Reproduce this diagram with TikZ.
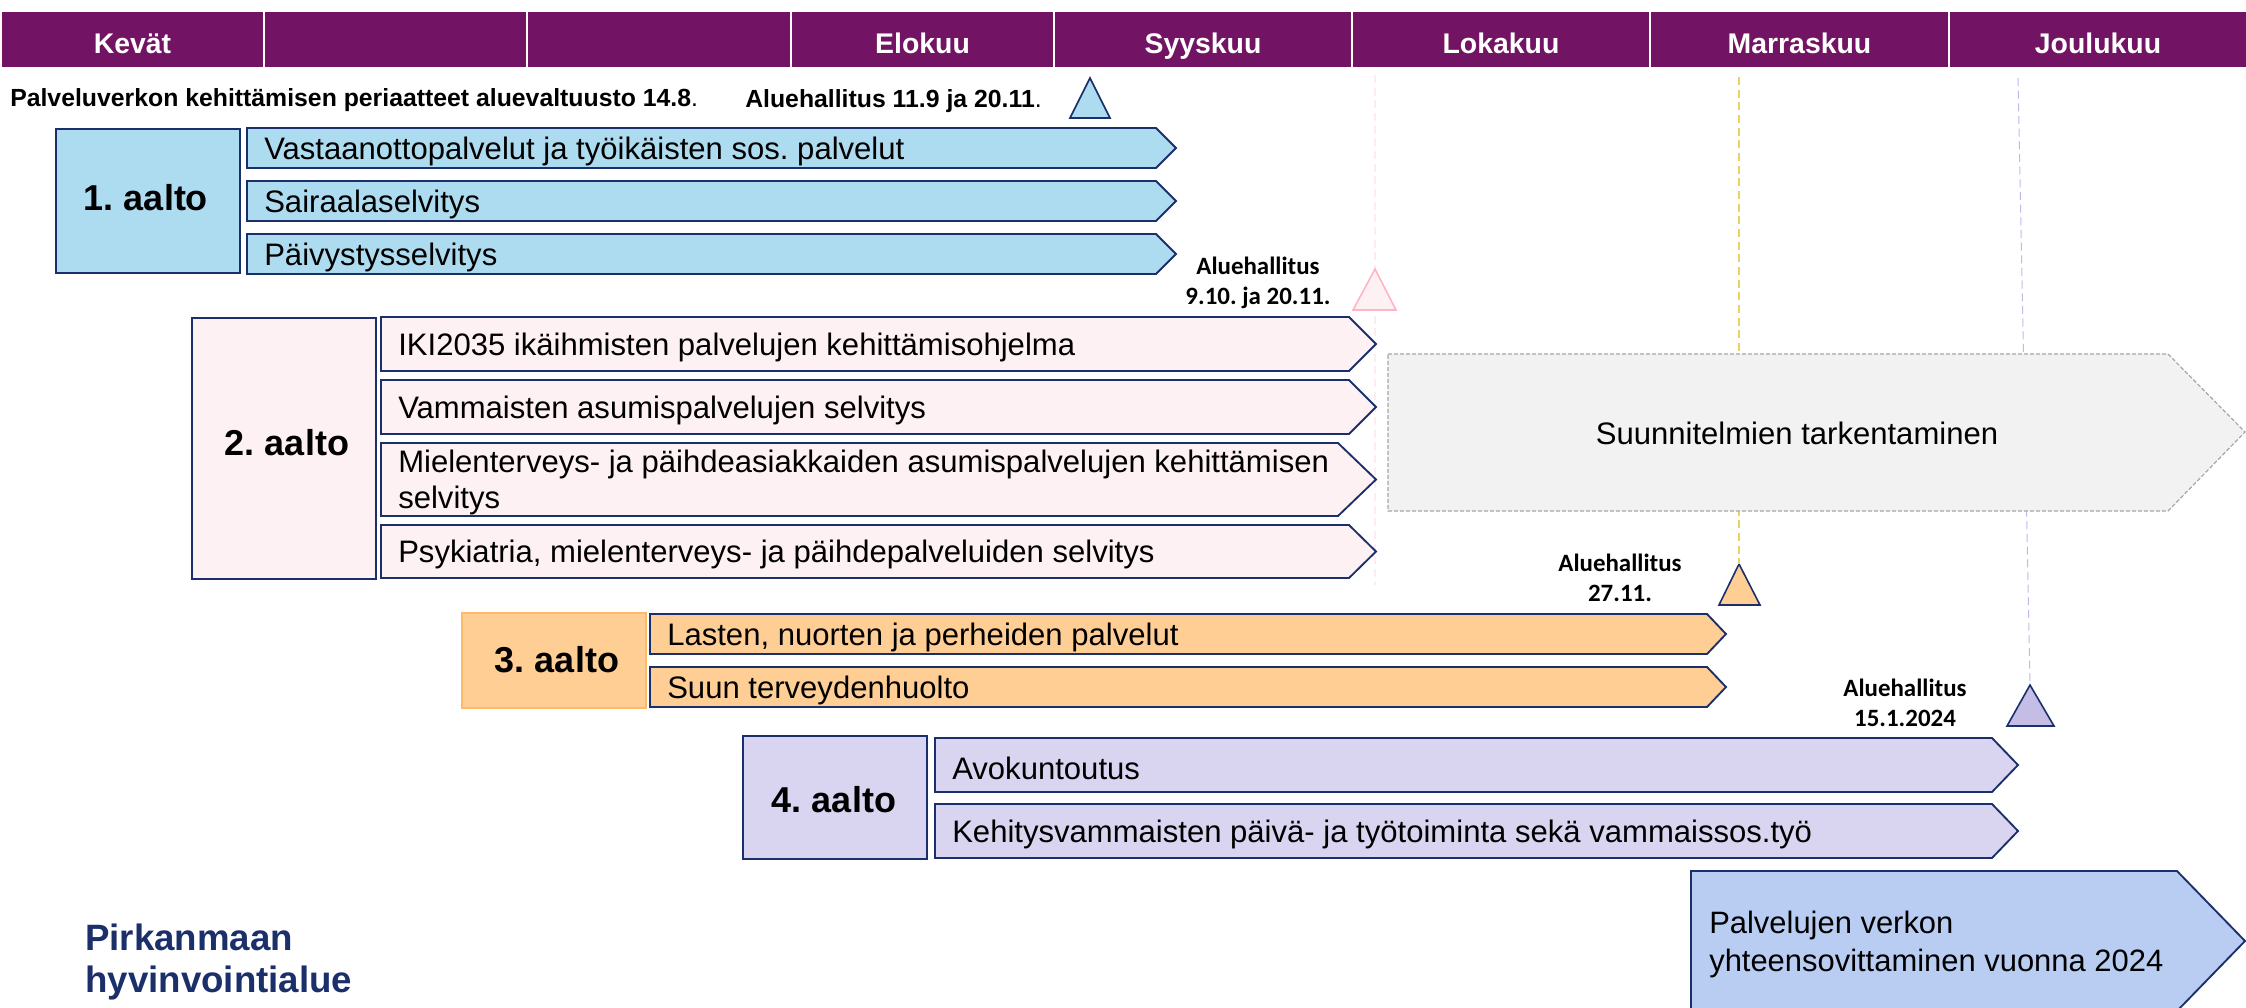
\documentclass[tikz,border=0pt]{standalone}
\usepackage{fontspec}
\setmainfont{Liberation Sans}
\newfontfamily\calfont{Carlito}
\frenchspacing
\definecolor{hdr}{HTML}{721463}
\definecolor{navy}{HTML}{1B2F6B}
\definecolor{blu}{HTML}{ADDBEF}
\definecolor{pnk}{HTML}{FEF1F3}
\definecolor{pnkl}{HTML}{FDB5C6}
\definecolor{org}{HTML}{FFCE95}
\definecolor{orgl}{HTML}{FBBB6B}
\definecolor{lav}{HTML}{D9D4F0}
\definecolor{lavt}{HTML}{C4BDE6}
\definecolor{gry}{HTML}{F2F2F2}
\definecolor{sky}{HTML}{B9CDF2}
\definecolor{yel}{HTML}{EBD163}
\definecolor{lavd}{HTML}{BDBBEA}
\definecolor{pind}{HTML}{FDEDF2}
\tikzset{
 x=0.75pt,y=-0.75pt,
 hcell/.style={fill=hdr,draw=white,line width=1.5pt,anchor=north west,minimum height=43pt,inner sep=0pt,text=white,text height=21pt,text depth=1pt,font=\fontsize{21.3}{21.3}\selectfont\bfseries},
 bar/.style={draw=navy,line width=1.4pt,line join=miter},
 wave/.style={draw=navy,line width=1.4pt,inner sep=0pt},
 wavet/.style={inner sep=0pt,font=\fontsize{27}{27}\selectfont\bfseries},
 lbl/.style={anchor=west,inner sep=0pt,yshift=-2.5pt,font=\fontsize{23.3}{27}\selectfont,align=left},
 tnote/.style={font=\calfont\fontsize{18.7}{22.5}\selectfont\bfseries,align=center,inner sep=0pt},
 note/.style={anchor=west,inner sep=0pt,font=\fontsize{18.6}{18.6}\selectfont},
 tri/.style={line width=1.2pt},
 guide/.style={dash pattern=on 6pt off 3.5pt,line width=0.8pt},
}
% name, x1, y1, x2(neck), y2, tip, fill, text
\newcommand{\pent}[8]{%
 \path[bar,fill=#7] (#2,#3) -- (#4,#3) -- (#6,{(#3+#5)/2}) -- (#4,#5) -- (#2,#5) -- cycle;
 \node[lbl] (#1) at ({#2+17},{(#3+#5)/2}) {#8};
}
% name, xl, xr, apex x, apex y, base y, fill, line
\newcommand{\trian}[8]{%
 \path[tri,fill=#7,draw=#8] (#4,#5) coordinate (#1) -- (#3,#6) -- (#2,#6) -- cycle;
}
\begin{document}
\begin{tikzpicture}
\useasboundingbox (0,0) rectangle (2246,1007);
\clip (0,0) rectangle (2246,1007);
% header
\foreach \n/\a/\b/\t in {h1/0/263/Kevät,h2/263/526/,h3/526/790/,h4/790/1053/Elokuu,h5/1053/1351/Syyskuu,h6/1351/1649/Lokakuu,h7/1649/1948/Marraskuu,h8/1948/2246/Joulukuu}{
 \pgfmathsetlengthmacro{\w}{(\b-\a)*0.75pt}
 \node[hcell,minimum width=\w] (\n) at (\a,10) {\t};
}
% guides
\coordinate (pg1) at (1375,75); \coordinate (pg2) at (1375,585);
\coordinate (yg1) at (1739,77); \coordinate (lg1) at (2018,78);
\draw[guide,pind] (pg1) -- (pg2);
\trian{t3}{1719}{1760}{1739}{564}{605}{org}{navy}
\trian{t4}{2007}{2054}{2030}{685}{726}{lavt}{navy}
\draw[guide,yel] (yg1) -- (t3);
\draw[guide,lavd] (lg1) -- (t4);
% top notes
\node[note] (n1) at (10,100) {\textbf{Palveluverkon kehittämisen periaatteet aluevaltuusto 14.8}.};
\node[note] (n2) at (745,101) {\textbf{Aluehallitus 11.9 ja 20.11}.};
\trian{t1}{1070}{1110}{1090}{78}{118}{blu}{navy}
% wave 1
\node[wave,fill=blu,minimum width=138pt,minimum height=108pt,anchor=north west] (w1) at (55,128) {};
\node[wavet] (w1t) at (146,198) {1. aalto};
\pent{a1}{247}{128}{1156}{168}{1176}{blu}{Vastaanottopalvelut ja työikäisten sos. palvelut}
\pent{a2}{247}{181}{1156}{221}{1176}{blu}{Sairaalaselvitys}
\pent{a3}{247}{234}{1156}{274}{1176}{blu}{Päivystysselvitys}
% wave 2
\node[tnote] (n3) at (1258,283) {Aluehallitus\\9.10. ja 20.11.};
\trian{t2}{1353}{1396}{1375}{269}{310}{pnk}{pnkl}
\node[wave,fill=pnk,minimum width=138pt,minimum height=196pt,anchor=north west] (w2) at (191,317) {};
\node[wavet] (w2t) at (287,443) {2. aalto};
\pent{b1}{381}{317}{1349}{371}{1376}{pnk}{IKI2035 ikäihmisten palvelujen kehittämisohjelma}
\pent{b2}{381}{380}{1349}{434}{1376}{pnk}{Vammaisten asumispalvelujen selvitys}
\pent{b3}{381}{443}{1338}{516}{1376}{pnk}{Mielenterveys- ja päihdeasiakkaiden asumispalvelujen kehittämisen\\selvitys}
\pent{b4}{381}{525}{1349}{578}{1376}{pnk}{Psykiatria, mielenterveys- ja päihdepalveluiden selvitys}
% refine
\path[draw=gray!70,fill=gry,dash pattern=on 3pt off 1.5pt,line width=0.9pt] (1388,354) -- (2168,354) -- (2245,432) -- (2168,511) -- (1388,511) -- cycle;
\node[inner sep=0pt,font=\fontsize{23.3}{27}\selectfont] (r) at (1797,433) {Suunnitelmien tarkentaminen};
% wave 3
\node[tnote] (n4) at (1620,578) {Aluehallitus\\27.11.};
\node[wave,draw=orgl,fill=org,minimum width=138pt,minimum height=71pt,anchor=north west] (w3) at (461,612) {};
\node[wavet] (w3t) at (557,660) {3. aalto};
\pent{c1}{650}{614}{1707}{654}{1726}{org}{Lasten, nuorten ja perheiden palvelut}
\pent{c2}{650}{667}{1707}{707}{1726}{org}{Suun terveydenhuolto}
% wave 4
\node[tnote] (n5) at (1905,703) {Aluehallitus\\15.1.2024};
\node[wave,fill=lav,minimum width=138pt,minimum height=92pt,anchor=north west] (w4) at (742,735) {};
\node[wavet] (w4t) at (834,800) {4. aalto};
\pent{d1}{935}{738}{1992}{792}{2018}{lav}{Avokuntoutus}
\pent{d2}{935}{804}{1992}{858}{2018}{lav}{Kehitysvammaisten päivä- ja työtoiminta sekä vammaissos.työ}
% bottom
\path[bar,fill=sky] (1691,871) -- (2177,871) -- (2245,941) -- (2177,1011) -- (1691,1011) -- cycle;
\node[lbl,font=\fontsize{23.2}{29}\selectfont] (e) at (1709,941) {Palvelujen verkon\\yhteensovittaminen vuonna 2024};
% logo
\node[anchor=west,inner sep=0pt,align=left,text=navy,font=\fontsize{27.5}{32}\selectfont\bfseries] (logo) at (85,962) {Pirkanmaan\\hyvinvointialue};
\end{tikzpicture}
\end{document}
